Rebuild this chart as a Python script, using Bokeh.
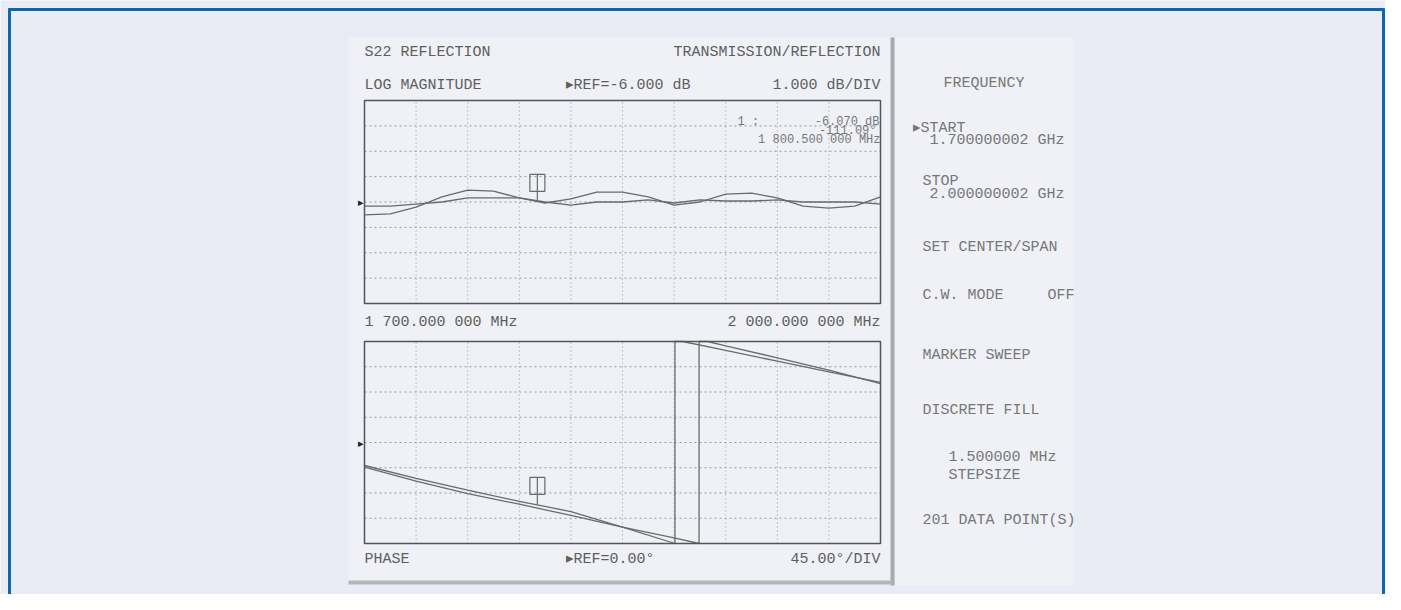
from bokeh.plotting import figure
from bokeh.models import Range1d
from bokeh.embed import file_html
from bokeh.resources import INLINE
from bokeh.core.properties import value

# ---------------- data ----------------
freq_mhz = [1700, 1715, 1730, 1745, 1760, 1775, 1790, 1805, 1820, 1835, 1850,
            1865, 1880, 1895, 1910, 1925, 1940, 1955, 1970, 1985, 2000]
mag_trace_a = [-6.51, -6.47, -6.20, -5.80, -5.53, -5.57, -5.84, -6.04, -5.88, -5.61, -5.61,
               -5.80, -6.12, -6.00, -5.69, -5.65, -5.84, -6.16, -6.24, -6.16, -5.80]
mag_trace_b = [-6.16, -6.16, -6.08, -6.00, -5.84, -5.84, -5.84, -6.00, -6.12, -6.00, -6.00,
               -5.92, -6.04, -5.92, -5.96, -5.96, -5.92, -6.00, -6.00, -6.00, -6.08]

phase_freq_a = [1700, 1730, 1760, 1790, 1820, 1850, 1880.5, 1880.5, 1885, 1910, 1940, 1970, 2000]
phase_a = [-41, -64, -85, -105, -123, -151, -180, 180, 180, 164, 145, 126, 107]
phase_freq_b = [1700, 1730, 1760, 1790, 1820, 1850, 1880, 1894.5, 1894.5, 1899.5, 1910, 1940, 1970, 2000]
phase_b = [-44, -69, -91, -110, -130, -151, -170, -180, 180, 180, 172, 151, 129, 105]

freq_start, freq_stop = 1700, 2000
freq_grid = [1730, 1760, 1790, 1820, 1850, 1880, 1910, 1940, 1970]
mag_ref, mag_div = -6.0, 1.0
phase_ref, phase_div = 0.0, 45.0
n_div = 8
marker_freq = 1800.5
marker_mag = -6.0
marker_phase = -111.09

top_labels = ["S22 REFLECTION", "TRANSMISSION/REFLECTION", "LOG MAGNITUDE",
              "\u25b8REF=-6.000 dB", "1.000 dB/DIV", "1 700.000 000 MHz",
              "2 000.000 000 MHz", "PHASE", "\u25b8REF=0.00\u00b0", "45.00\u00b0/DIV"]
menu_labels = ["FREQUENCY", "\u25b8START", "1.700000002 GHz", "STOP", "2.000000002 GHz",
               "SET CENTER/SPAN", "C.W. MODE", "OFF", "MARKER SWEEP", "DISCRETE FILL",
               "1.500000 MHz", "STEPSIZE", "201 DATA POINT(S)"]
marker_labels = ["1 :", "-6.070 dB", "-111.09\u00b0", "1 800.500 000 MHz"]

# ---------------- styles ----------------
BG = "#e9ecf5"
PANEL = "#eff1f7"
INK = "#5e5e5e"
MENU_INK = "#777777"
TRACE = "#6a6a6a"
GRID = "#9a9a9a"
BOX = "#555555"
FONT = value("Liberation Mono")

W, H = 1385, 594
p = figure(width=W, height=H, x_range=Range1d(0, W), y_range=Range1d(H, 0),
           output_backend="svg", toolbar_location=None, min_border=0,
           x_axis_location=None, y_axis_location=None,
           background_fill_color=BG, border_fill_color=BG, outline_line_color=None)
p.grid.visible = False

# outer frame (left / top / right)
p.segment(x0=[9, 8, 1383], y0=[8, 9, 8], x1=[9, 1384, 1383], y1=[H, 9, H],
          line_color="#0b67b0", line_width=3)

# instrument screen panels
p.quad(left=[348, 895], right=[892, 1073], top=[37, 37], bottom=[582, 585],
       fill_color=PANEL, line_color=None)
p.quad(left=[890], right=[894], top=[37], bottom=[585], fill_color="#a7a9ae", line_color=None)
p.quad(left=[348], right=[892], top=[580], bottom=[584], fill_color="#b3b5ba", line_color=None)


def panel(y_top, y_bottom, ref, div, traces_x, traces_y, mval):
    lo = ref - div * n_div / 2
    hi = ref + div * n_div / 2
    sp = p.subplot(x_source=Range1d(freq_start, freq_stop), y_source=Range1d(lo, hi),
                   x_target=Range1d(364, 880), y_target=Range1d(y_bottom, y_top))
    ylev = [lo + div * k for k in range(1, n_div)]
    sp.segment(x0=freq_grid, y0=[lo] * len(freq_grid), x1=freq_grid, y1=[hi] * len(freq_grid),
               line_color=GRID, line_width=1, line_dash="1 3")
    sp.segment(x0=[freq_start] * len(ylev), y0=ylev, x1=[freq_stop] * len(ylev), y1=ylev,
               line_color=GRID, line_width=1, line_dash="2 3")
    for tx, ty in zip(traces_x, traces_y):
        sp.line(tx, ty, line_color=TRACE, line_width=1.3)
    sp.quad(left=[freq_start], right=[freq_stop], bottom=[lo], top=[hi],
            fill_color=None, line_color=BOX, line_width=1.5)
    # marker
    sp.segment(x0=[marker_freq], y0=[mval], x1=[marker_freq], y1=[mval + 1.08 * div],
               line_color=TRACE, line_width=1.2)
    sp.rect(x=[marker_freq], y=[mval + 0.75 * div], width=15, height=17,
            width_units="screen", height_units="screen",
            fill_color=None, line_color=TRACE, line_width=1.2)
    # reference arrow
    sp.text(x=[freq_start], y=[ref], text=["\u25b8"], x_offset=-1, text_align="right",
            text_baseline="middle", text_font_size="11px", text_color="#222222")


panel(100, 303, mag_ref, mag_div, [freq_mhz, freq_mhz], [mag_trace_a, mag_trace_b], marker_mag)
panel(341, 543, phase_ref, phase_div, [phase_freq_a, phase_freq_b], [phase_a, phase_b], marker_phase)

# screen labels
tx = [364, 880, 364, 565, 880, 364, 880, 364, 565, 880]
ty = [52, 52, 85, 85, 85, 322, 322, 559, 559, 559]
al = ["left", "right", "left", "left", "right", "left", "right", "left", "left", "right"]
p.text(x=tx, y=ty, text=top_labels, text_align=al, text_baseline="middle",
       text_font=FONT, text_font_size="15px", text_color=INK)

mx = [943, 912, 929, 922, 929, 922, 922, 1047, 922, 922, 948, 948, 922]
my = [83, 128, 140, 181, 194, 247, 295, 295, 355, 410, 457, 475, 520]
p.text(x=mx, y=my, text=menu_labels, text_align="left", text_baseline="middle",
       text_font=FONT, text_font_size="15px", text_color=MENU_INK)

ax = [737, 879, 876, 880]
ay = [121, 121, 130, 139]
aa = ["left", "right", "right", "right"]
p.text(x=ax, y=ay, text=marker_labels, text_align=aa, text_baseline="middle",
       text_font=FONT, text_font_size="12px", text_color=MENU_INK)

open("out.html", "w").write(file_html(p, INLINE))
